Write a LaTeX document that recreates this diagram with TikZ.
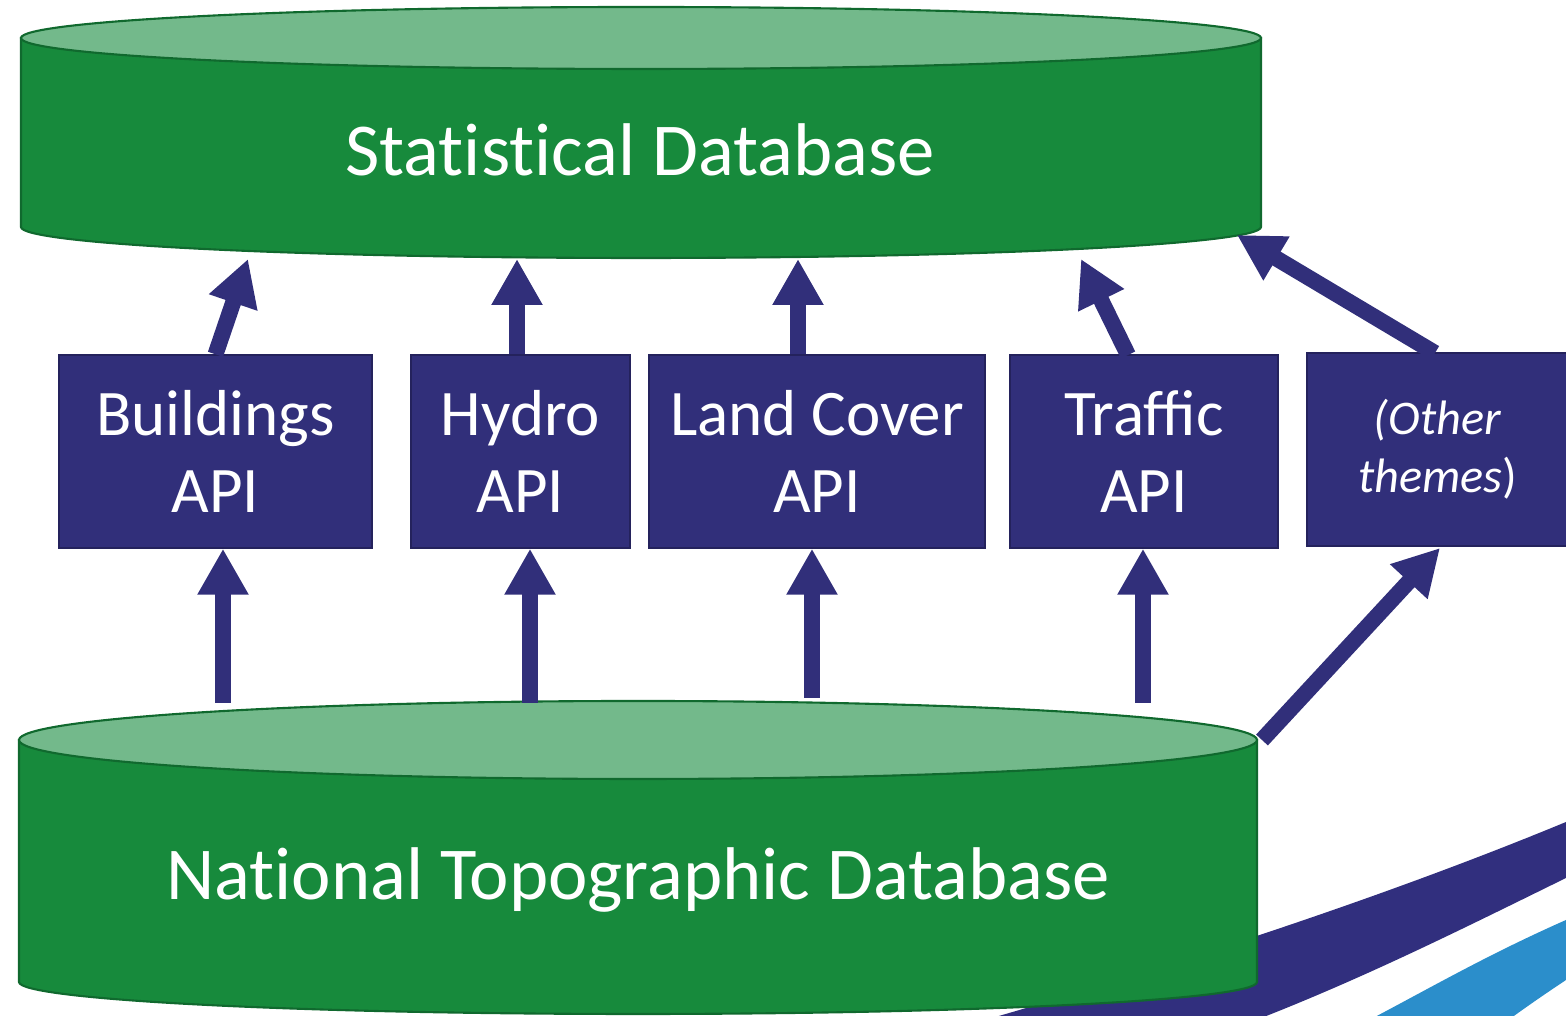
\documentclass[tikz,border=0pt]{standalone}
\usepackage{fontspec}
\setmainfont{Carlito}
\usetikzlibrary{arrows.meta}
\definecolor{apiblue}{HTML}{312F7A}
\definecolor{apiedge}{HTML}{24225C}
\definecolor{dbbody}{HTML}{178A3C}
\definecolor{dbtop}{HTML}{73B98B}
\definecolor{dbedge}{HTML}{10692E}
\definecolor{swnavy}{HTML}{312F7E}
\definecolor{swblue}{HTML}{2B8ECB}

\begin{document}
\begin{tikzpicture}[x=0.02cm,y=0.02cm,
    api/.style={draw=apiedge,line width=0.8pt,fill=apiblue,text=white,minimum height=3.86cm,
      align=center,font=\fontsize{37}{44}\selectfont},
    feed/.style={draw=apiblue,line width=0.32cm,-{Triangle[width=0.96cm,length=0.92cm]}},
    dbtext/.style={text=white,font=\addfontfeature{Ligatures=NoCommon}\fontsize{42.5}{50}\selectfont},
    db/.style={draw=dbedge,line width=1.2pt}]
  \useasboundingbox (0,0) rectangle (1566,1016);
  \clip (0,0) rectangle (1566,1016);

  % swoosh
  \fill[swnavy] (1566,194) .. controls (1450,146) and (1250,71) .. (950,-14)
    -- (1230,-14) .. controls (1350,31) and (1450,81) .. (1566,138) -- cycle;
  \fill[swblue] (1566,96) .. controls (1480,58) and (1420,22) .. (1350,-14)
    -- (1495,-14) .. controls (1520,5) and (1545,22) .. (1566,36) -- cycle;

  % statistical database
  \draw[db,fill=dbbody] (21,978) -- (21,789) arc[start angle=180,end angle=360,x radius=620,y radius=31]
    -- (1261,978) -- cycle;
  \draw[db,fill=dbtop] (641,978) ellipse[x radius=620,y radius=31];
  \node[dbtext] (sdb) at (640,866) {Statistical Database};

  % national topographic database
  \draw[db,fill=dbbody] (19,276) -- (19,34) arc[start angle=180,end angle=360,x radius=619,y radius=32]
    -- (1257,276) -- cycle;
  \draw[db,fill=dbtop] (638,276) ellipse[x radius=619,y radius=39];
  \node[dbtext] (ntdb) at (638,136) {National Topographic Database};

  % APIs
  \node[api,minimum width=6.26cm] (bld) at (215.5,564.5) {Buildings\\API};
  \node[api,minimum width=4.38cm] (hyd) at (520.5,564.5) {Hydro\\API};
  \node[api,minimum width=6.72cm] (lnd) at (817,564.5) {Land Cover\\API};
  \node[api,minimum width=5.36cm] (trf) at (1144,564.5) {Traffic\\API};
  \node[api,minimum width=5.22cm,font=\fontsize{27.5}{33}\selectfont] (oth) at (1437.5,566.5)
    {\textit{(Other}\\\textit{themes})};

  \coordinate (s1) at (248,757);
  \coordinate (s2) at (517,757);
  \coordinate (s3) at (798,757);
  \coordinate (s4) at (1081,757);
  \coordinate (s5) at (1237,781);
  \coordinate (n1) at (223,313);
  \coordinate (n2) at (530,313);
  \coordinate (n3) at (812,318);
  \coordinate (n4) at (1143,313);
  \coordinate (n5) at (1262,276);

  \draw[feed] (bld.north) -- (s1);
  \draw[feed] (s2 |- hyd.north) -- (s2);
  \draw[feed] (s3 |- lnd.north) -- (s3);
  \draw[feed] (1128,661) -- (s4);
  \draw[feed] (1435,663) -- (s5);

  \draw[feed] (n1) -- (n1 |- bld.south);
  \draw[feed] (n2) -- (n2 |- hyd.south);
  \draw[feed] (n3) -- (n3 |- lnd.south);
  \draw[feed] (n4) -- (n4 |- trf.south);
  \draw[feed] (n5) -- (1440,468);
\end{tikzpicture}
\end{document}
